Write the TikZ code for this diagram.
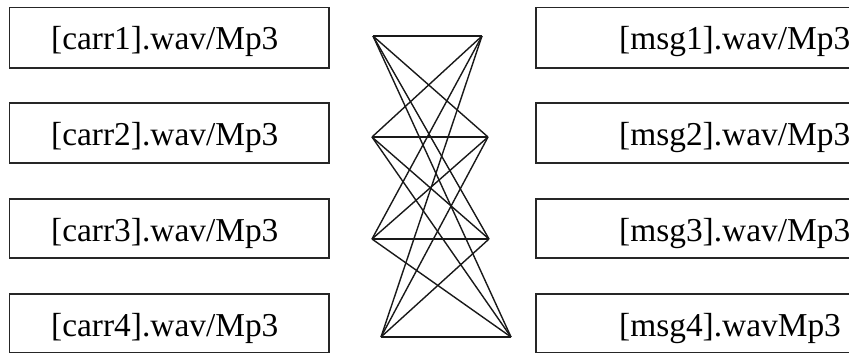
\documentclass[tikz,border=0pt]{standalone}
\usepackage{fontspec}
\setmainfont{Liberation Serif}
\begin{document}
\begin{tikzpicture}[x=1pt,y=-1pt,
  filebox/.style={draw=black!85,line width=1.1pt},
  lbl/.style={inner sep=0pt,anchor=base west,font=\fontsize{33.4}{40}\selectfont},
  wire/.style={line width=1.4pt,black!90}]
\useasboundingbox (0,0) rectangle (849,354);
% boxes
\foreach \i/\t/\b in {1/7.5/68, 2/103/163, 3/199/258, 4/294/352.5}{
  \draw[filebox] (9.5,\t) rectangle (329,\b);
  \draw[filebox] (536,\t) rectangle (900,\b);
}
\node[lbl] (lt1) at (51,49.5) {[carr1].wav/Mp3};
\node[lbl] (lt2) at (51,145) {[carr2].wav/Mp3};
\node[lbl] (lt3) at (51,241) {[carr3].wav/Mp3};
\node[lbl] (lt4) at (51,336) {[carr4].wav/Mp3};
\node[lbl] (rt1) at (619,49.5) {[msg1].wav/Mp3};
\node[lbl] (rt2) at (619,145) {[msg2].wav/Mp3};
\node[lbl] (rt3) at (619,241) {[msg3].wav/Mp3};
\node[lbl] (rt4) at (619,336) {[msg4].wavMp3};
% connector points
\coordinate (L1) at (373,36);
\coordinate (R1) at (482,36);
\coordinate (L2) at (372,137);
\coordinate (R2) at (488,137);
\coordinate (L3) at (372,239);
\coordinate (R3) at (489,239);
\coordinate (L4) at (381,337);
\coordinate (R4) at (511,337);
\foreach \a in {1,2,3,4}{
  \foreach \b in {1,2,3,4}{
    \draw[wire] (L\a) -- (R\b);
  }
}
\end{tikzpicture}
\end{document}
